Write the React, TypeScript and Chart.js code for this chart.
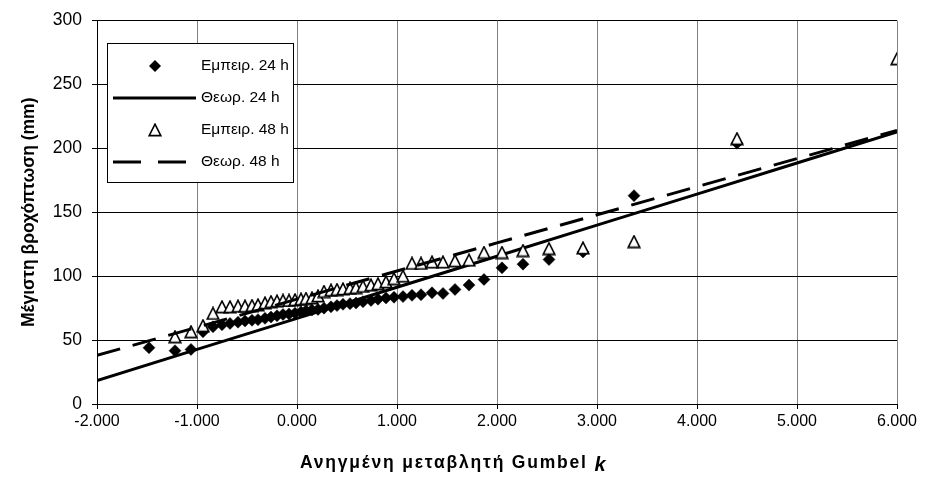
import React, { useEffect, useRef } from "react";
import { Chart, registerables } from "chart.js";

Chart.register(...registerables);

// Gumbel reduced variate k for the empirical points (24 h series)
const k24 = [
  -1.48, -1.22, -1.06, -0.94, -0.84, -0.75, -0.67, -0.59, -0.52, -0.45, -0.39, -0.32,
  -0.26, -0.2, -0.14, -0.08, -0.02, 0.04, 0.09, 0.15, 0.21, 0.27, 0.34, 0.4, 0.46,
  0.53, 0.59, 0.66, 0.74, 0.81, 0.89, 0.97, 1.06, 1.15, 1.24, 1.35, 1.46, 1.58, 1.72,
  1.87, 2.05, 2.26, 2.52, 2.86, 3.37, 4.4,
];
const rain24 = [
  44, 41.7, 42.7, 56.5, 60.4, 62, 63, 64, 65, 65.5, 66, 67, 68, 69, 70, 70.5, 71, 72,
  73, 73.5, 74, 75, 76, 77, 78, 78.5, 79, 80, 81, 82, 83, 83.5, 84, 85, 85.5, 87, 86.5,
  89.6, 93, 97.4, 106.5, 109.4, 113, 119, 163, 204,
];

// empirical points (48 h series)
const k48 = [
  -1.22, -1.06, -0.94, -0.84, -0.75, -0.67, -0.59, -0.52, -0.45, -0.39, -0.32, -0.26,
  -0.2, -0.14, -0.08, -0.02, 0.04, 0.09, 0.15, 0.21, 0.27, 0.34, 0.4, 0.46, 0.53, 0.59,
  0.66, 0.74, 0.81, 0.89, 0.97, 1.06, 1.15, 1.24, 1.35, 1.46, 1.58, 1.72, 1.87, 2.05,
  2.26, 2.52, 2.86, 3.37, 4.4, 6.0,
];
const rain48 = [
  52.6, 56.5, 61.2, 70.8, 76, 76, 76.5, 76.5, 77, 77.5, 79, 80, 80.5, 81, 81, 81.5, 82,
  82.5, 83, 84.5, 88, 89, 89.5, 90, 90.5, 91, 92, 93, 94, 95.5, 98, 100, 110, 110, 111,
  111, 112, 112.5, 118.5, 118.5, 120, 121.5, 122, 127, 207.5, 270,
];

// theoretical Gumbel lines
const kLine = [-2, -1, 0, 1, 2, 3, 4, 5, 6];
const theo24 = [18.4, 42.7, 67, 91.3, 115.6, 139.9, 164.2, 188.5, 212.8];
const theo48 = [38, 60, 82, 104, 126, 148, 170, 192, 214];

const seriesLabels = ["Εμπειρ. 24 h", "Θεωρ. 24 h", "Εμπειρ. 48 h", "Θεωρ. 48 h"];
const yTitle = "Μέγιστη βροχόπτωση (mm)";
const xTitleMain = "Ανηγμένη μεταβλητή Gumbel ";
const xTitleVar = "k";

const FONT = '"Liberation Sans", Arial, sans-serif';

function makeTriangle(): HTMLCanvasElement {
  const c = document.createElement("canvas");
  c.width = 14;
  c.height = 14;
  const g = c.getContext("2d")!;
  g.beginPath();
  g.moveTo(7, 1.2);
  g.lineTo(12.8, 12.6);
  g.lineTo(1.2, 12.6);
  g.closePath();
  g.fillStyle = "#ffffff";
  g.fill();
  g.lineWidth = 1.6;
  g.strokeStyle = "#000000";
  g.stroke();
  return c;
}

const zip = (xs: number[], ys: number[]) => xs.map((x, i) => ({ x, y: ys[i] }));

export default function App() {
  const ref = useRef<HTMLCanvasElement>(null);

  useEffect(() => {
    const tri = makeTriangle();

    const legendPlugin = {
      id: "boxLegend",
      afterDatasetsDraw(chart: any) {
        const ctx = chart.ctx as CanvasRenderingContext2D;
        ctx.save();
        const bx = 107.5, by = 43.5, bw = 186, bh = 139;
        ctx.fillStyle = "#ffffff";
        ctx.fillRect(bx, by, bw, bh);
        ctx.strokeStyle = "#000000";
        ctx.lineWidth = 1;
        ctx.strokeRect(bx, by, bw, bh);
        const rows = [66, 98, 130, 162];
        const symX = 155;
        ctx.font = `15.5px ${FONT}`;
        ctx.textBaseline = "middle";
        ctx.textAlign = "left";
        rows.forEach((ry, i) => {
          const ds = chart.data.datasets[i];
          if (i === 0) {
            ctx.fillStyle = "#000";
            ctx.beginPath();
            ctx.moveTo(symX - 6, ry);
            ctx.lineTo(symX, ry - 6);
            ctx.lineTo(symX + 6, ry);
            ctx.lineTo(symX, ry + 6);
            ctx.closePath();
            ctx.fill();
          } else if (i === 2) {
            ctx.drawImage(tri, symX - 7, ry - 7);
          } else {
            ctx.strokeStyle = "#000";
            ctx.lineWidth = 3;
            ctx.setLineDash(i === 3 ? [28, 17] : []);
            ctx.beginPath();
            ctx.moveTo(113, ry);
            ctx.lineTo(196, ry);
            ctx.stroke();
            ctx.setLineDash([]);
          }
          ctx.fillStyle = "#000";
          ctx.fillText(ds.label, 201, ry);
        });
        ctx.restore();
      },
    };

    const xTitlePlugin = {
      id: "xTitle",
      afterDraw(chart: any) {
        const ctx = chart.ctx as CanvasRenderingContext2D;
        ctx.save();
        ctx.fillStyle = "#000";
        ctx.textBaseline = "alphabetic";
        ctx.textAlign = "left";
        (ctx as any).letterSpacing = "1.8px";
        ctx.font = `bold 17.5px ${FONT}`;
        const w1 = ctx.measureText(xTitleMain).width;
        const x0 = 300;
        ctx.fillText(xTitleMain, x0, 468);
        ctx.font = `italic bold 20px ${FONT}`;
        ctx.fillText(xTitleVar, x0 + w1, 471);
        ctx.restore();
      },
    };

    const chart = new Chart(ref.current!, {
      type: "scatter",
      data: {
        datasets: [
          {
            label: seriesLabels[0],
            data: zip(k24, rain24),
            pointStyle: "rectRot",
            pointRadius: 6,
            pointBackgroundColor: "#000",
            pointBorderColor: "#000",
            pointBorderWidth: 0.5,
            showLine: false,
            order: 4,
          },
          {
            label: seriesLabels[1],
            data: zip(kLine, theo24),
            showLine: true,
            borderColor: "#000",
            borderWidth: 3,
            pointRadius: 0,
            fill: false,
            order: 3,
          },
          {
            label: seriesLabels[2],
            data: zip(k48, rain48),
            pointStyle: tri as any,
            pointRadius: 7,
            showLine: false,
            order: 2,
          },
          {
            label: seriesLabels[3],
            data: zip(kLine, theo48),
            showLine: true,
            borderColor: "#000",
            borderWidth: 3,
            borderDash: [24, 13],
            pointRadius: 0,
            fill: false,
            order: 1,
          },
        ] as any,
      },
      options: {
        animation: false,
        responsive: false,
        maintainAspectRatio: false,
        layout: { padding: { top: 20, right: 30, left: 0, bottom: 0 } },
        plugins: {
          legend: { display: false },
          tooltip: { enabled: false },
        },
        scales: {
          x: {
            type: "linear",
            min: -2,
            max: 6,
            afterFit: (s: any) => {
              s.height = 86;
            },
            ticks: {
              stepSize: 1,
              color: "#000",
              font: { family: FONT, size: 16 },
              padding: 3,
              maxRotation: 0,
              callback: (v: any) => Number(v).toFixed(3),
            },
            grid: {
              color: "#808080",
              lineWidth: 1,
              tickLength: 5,
              tickColor: "#000",
              drawTicks: true,
            },
            border: { display: true, color: "#000", width: 1 },
          },
          y: {
            type: "linear",
            min: 0,
            max: 300,
            afterFit: (s: any) => {
              s.width = 97;
            },
            ticks: {
              stepSize: 50,
              color: "#000",
              font: { family: FONT, size: 17.5 },
              padding: 10,
            },
            grid: {
              color: "#000",
              lineWidth: 1,
              tickLength: 5,
              tickColor: "#000",
              drawTicks: true,
            },
            border: { display: true, color: "#000", width: 1 },
            title: {
              display: true,
              text: yTitle,
              color: "#000",
              font: { family: FONT, size: 17.5, weight: "bold" },
              padding: { top: 19, bottom: 0 },
            },
          },
        },
      },
      plugins: [legendPlugin, xTitlePlugin],
    });

    return () => chart.destroy();
  }, []);

  return (
    <div
      style={{
        position: "fixed",
        left: 0,
        top: 0,
        width: 927,
        height: 490,
        background: "#ffffff",
      }}
    >
      <canvas ref={ref} width={927} height={490} style={{ width: 927, height: 490 }} />
    </div>
  );
}
